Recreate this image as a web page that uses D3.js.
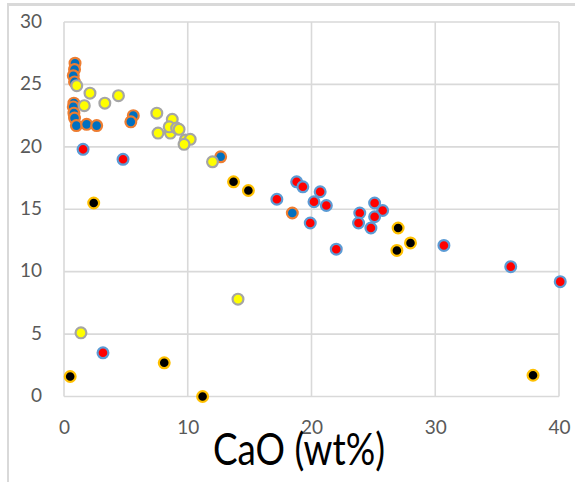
<!DOCTYPE html>
<html>
<head>
<meta charset="utf-8">
<script src="https://cdn.jsdelivr.net/npm/d3@7"></script>
<style>
  html, body { margin: 0; padding: 0; background: #fff; }
  svg { display: block; }
</style>
</head>
<body>
<svg id="chart" width="575" height="482"></svg>
<script>
// Axis ticks
const xTicks = [0, 10, 20, 30, 40];
const yTicks = [0, 5, 10, 15, 20, 25, 30];

// Series 1: blue markers, orange outline
const s1CaO = [0.89, 0.85, 0.75, 0.85, 0.8, 0.75, 0.8, 0.85, 1.0, 1.83, 2.64, 5.6, 5.4, 12.66, 18.45];
const s1Val = [26.7, 26.2, 25.7, 25.2, 23.5, 23.2, 22.7, 22.3, 21.7, 21.8, 21.7, 22.5, 22.0, 19.2, 14.7];

// Series 2: yellow markers, grey outline
const s2CaO = [1.03, 2.1, 3.3, 4.4, 1.64, 7.5, 8.75, 7.6, 8.6, 8.5, 9.1, 9.3, 9.8, 10.2, 9.7, 12.0, 1.37, 14.06];
const s2Val = [24.9, 24.3, 23.5, 24.1, 23.3, 22.7, 22.2, 21.1, 21.1, 21.6, 21.5, 21.4, 20.55, 20.6, 20.2, 18.8, 5.1, 7.8];

// Series 3: red markers, light blue outline
const s3CaO = [1.54, 4.77, 3.15, 18.8, 19.3, 17.2, 20.7, 20.2, 21.2, 19.9, 22.0, 25.1, 25.75, 23.9, 25.1, 23.8, 24.8, 30.7, 36.1, 40.1];
const s3Val = [19.8, 19.0, 3.5, 17.2, 16.8, 15.8, 16.4, 15.6, 15.3, 13.9, 11.8, 15.5, 14.9, 14.7, 14.4, 13.9, 13.5, 12.1, 10.4, 9.2];

// Series 4: black markers, amber outline
const s4CaO = [0.5, 2.4, 8.1, 11.2, 13.7, 14.9, 27.0, 28.0, 26.9, 37.9];
const s4Val = [1.6, 15.5, 2.7, 0.0, 17.2, 16.5, 13.5, 12.3, 11.7, 1.7];

const series = [
  { x: s1CaO, y: s1Val, fill: "#0070C0", stroke: "#ED7D31" },
  { x: s2CaO, y: s2Val, fill: "#FFFF00", stroke: "#A5A5A5" },
  { x: s3CaO, y: s3Val, fill: "#FF0000", stroke: "#5B9BD5" },
  { x: s4CaO, y: s4Val, fill: "#000000", stroke: "#FFC000" }
];

const svg = d3.select("#chart");
const gridColor = "#D9D9D9";

// Chart frame edges
svg.append("rect").attr("x", 7).attr("y", 3).attr("width", 568).attr("height", 3).attr("fill", gridColor);
svg.append("rect").attr("x", 7).attr("y", 3).attr("width", 2).attr("height", 479).attr("fill", gridColor);

const x = d3.scaleLinear().domain([0, 40]).range([64, 559]);
const y = d3.scaleLinear().domain([0, 30]).range([396.5, 22]);

// Gridlines
const grid = svg.append("g");
grid.selectAll("line.v").data(xTicks).join("line")
  .attr("x1", d => x(d)).attr("x2", d => x(d))
  .attr("y1", y(0)).attr("y2", y(30))
  .attr("stroke", gridColor).attr("stroke-width", 1.6);
grid.selectAll("line.h").data(yTicks).join("line")
  .attr("x1", x(0)).attr("x2", x(40))
  .attr("y1", d => y(d)).attr("y2", d => y(d))
  .attr("stroke", gridColor).attr("stroke-width", 1.6);

// Axes (labels only)
const fontFam = "Lato, 'Liberation Sans', Arial, sans-serif";
const xAxis = svg.append("g")
  .attr("transform", `translate(0,${y(0)})`)
  .call(d3.axisBottom(x).tickValues(xTicks).tickSize(0).tickPadding(31).tickFormat(d3.format("d")));
const yAxis = svg.append("g")
  .attr("transform", `translate(${x(0)},0)`)
  .call(d3.axisLeft(y).tickValues(yTicks).tickSize(0).tickPadding(22).tickFormat(d3.format("d")));
[xAxis, yAxis].forEach(g => {
  g.select(".domain").remove();
  g.selectAll("text").attr("fill", "#595959").style("font-family", fontFam).style("font-size", "19px");
});
xAxis.selectAll("text").attr("dy", "0.35em");
yAxis.selectAll("text").attr("dy", "0.28em");

// Axis title
svg.append("text")
  .attr("x", 299).attr("y", 465)
  .attr("text-anchor", "middle")
  .attr("textLength", 172).attr("lengthAdjust", "spacingAndGlyphs")
  .style("font-family", fontFam).style("font-size", "45px")
  .attr("fill", "#000")
  .text("CaO (wt%)");

// Markers
series.forEach(s => {
  svg.append("g").selectAll("circle")
    .data(d3.range(s.x.length))
    .join("circle")
    .attr("cx", i => x(s.x[i]))
    .attr("cy", i => y(s.y[i]))
    .attr("r", 5.4)
    .attr("fill", s.fill)
    .attr("stroke", s.stroke)
    .attr("stroke-width", 2.2);
});
</script>
</body>
</html>
